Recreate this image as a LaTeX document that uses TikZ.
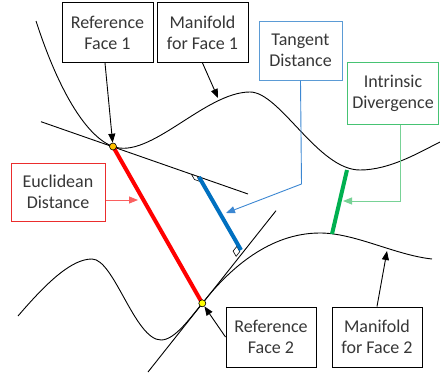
\documentclass[tikz,border=0pt]{standalone}
\usepackage{fontspec}
\setmainfont{Carlito}
\usetikzlibrary{arrows.meta,calc}
\definecolor{txtgray}{RGB}{55,55,55}
\definecolor{boxred}{RGB}{235,45,45}
\definecolor{arrred}{RGB}{250,95,95}
\definecolor{thickred}{RGB}{255,0,0}
\definecolor{boxblue}{RGB}{91,155,213}
\definecolor{arrblue}{RGB}{60,135,210}
\definecolor{thickblue}{RGB}{0,112,192}
\definecolor{boxgreen}{RGB}{70,195,115}
\definecolor{arrgreen}{RGB}{120,210,150}
\definecolor{thickgreen}{RGB}{0,176,80}
\definecolor{ptorange}{RGB}{255,192,0}
\definecolor{ptyellow}{RGB}{255,255,0}
\begin{document}
\begin{tikzpicture}[x=1pt,y=-1pt,
  lbl/.style={draw,line width=1pt,fill=white,inner sep=0pt,align=center,
    text=txtgray,font=\fontsize{18}{21}\selectfont},
  curve/.style={line width=0.9pt,black},
  tline/.style={line width=0.9pt,black},
  arr/.style={line width=0.9pt,-{Triangle[length=9pt,width=7pt]}},
  dotpt/.style={circle,draw=black,line width=0.6pt,inner sep=0pt,minimum size=7pt},
  rmark/.style={draw=black,fill=white,line width=0.6pt}]
\useasboundingbox (0,0) rectangle (440,375);
% manifold 1
\draw[curve] (36,21) .. controls (60,95) and (88,137.5) .. (113,146.5)
  .. controls (150,160) and (205,92) .. (250,92)
  .. controls (280,92) and (318,170) .. (360,170)
  .. controls (390,170) and (420,152) .. (440,142);
% manifold 2
\draw[curve] (18,316) .. controls (48,281) and (72,259) .. (92,259)
  .. controls (114,259) and (135,340) .. (161,340)
  .. controls (175,340) and (190,318) .. (202.3,303.3)
  .. controls (230,268) and (270,233) .. (320,233)
  .. controls (355,233) and (395,255) .. (432,259);
% tangent lines
\draw[tline] (41,121.7) -- (248,194);
\draw[tline] (148,372) -- (276,210.7);
% right angle marks
\draw[rmark] (197.1,176.3) -- ++(-5.66,-1.98) -- ++(3,5.2) -- ++(5.66,1.98) -- cycle;
\draw[rmark] (239.8,251.6) -- ++(-3.7,4.7) -- ++(-3,-5.2) -- ++(3.7,-4.7) -- cycle;
\coordinate (P1) at (113,146.5);
\coordinate (P2) at (202.3,303.3);
% distances
\draw[line width=4pt,thickred] (P1) -- (P2);
\draw[line width=4pt,thickblue] (199,177) -- (241,250);
\draw[line width=4pt,thickgreen] (347,170) -- (332,234);
\node[dotpt,fill=ptorange] (p1) at (P1) {};
\node[dotpt,fill=ptyellow] (p2) at (P2) {};
% boxes
\node[lbl,minimum width=91pt,minimum height=60pt] (rf1) at (107.5,32.5) {Reference\\Face 1};
\node[lbl,minimum width=91pt,minimum height=60pt] (mf1) at (202.5,32.5) {Manifold\\for Face 1};
\node[lbl,draw=boxblue,minimum width=83pt,minimum height=59pt] (td) at (300.5,50.5) {Tangent\\Distance};
\node[lbl,draw=boxgreen,minimum width=91pt,minimum height=62pt] (id) at (393,93) {Intrinsic\\Divergence};
\node[lbl,draw=boxred,minimum width=94pt,minimum height=58pt] (ed) at (58,192) {Euclidean\\Distance};
\node[lbl,minimum width=90pt,minimum height=60pt] (rf2) at (271,337) {Reference\\Face 2};
\node[lbl,minimum width=90pt,minimum height=60pt] (mf2) at (377,337) {Manifold\\for Face 2};
% arrows
\coordinate (m1t) at (218,98);
\coordinate (tdk) at (301.5,184);
\coordinate (tdt) at (226,213);
\coordinate (idt) at (343,201);
\coordinate (edt) at (138,200);
\coordinate (m2t) at (387,251);
\draw[arr] ([xshift=-2.5pt]rf1.south) -- (p1);
\draw[arr] (mf1.south) -- (m1t);
\draw[arr,arrblue] (td.south) -- (tdk) -- (tdt);
\draw[arr,arrgreen] ([xshift=7pt]id.south) |- (idt);
\draw[arr,arrred] ([yshift=-8pt]ed.east) -- (edt);
\draw[arr] (rf2.west) -- (p2);
\draw[arr] (mf2.north) -- (m2t);
\end{tikzpicture}
\end{document}
